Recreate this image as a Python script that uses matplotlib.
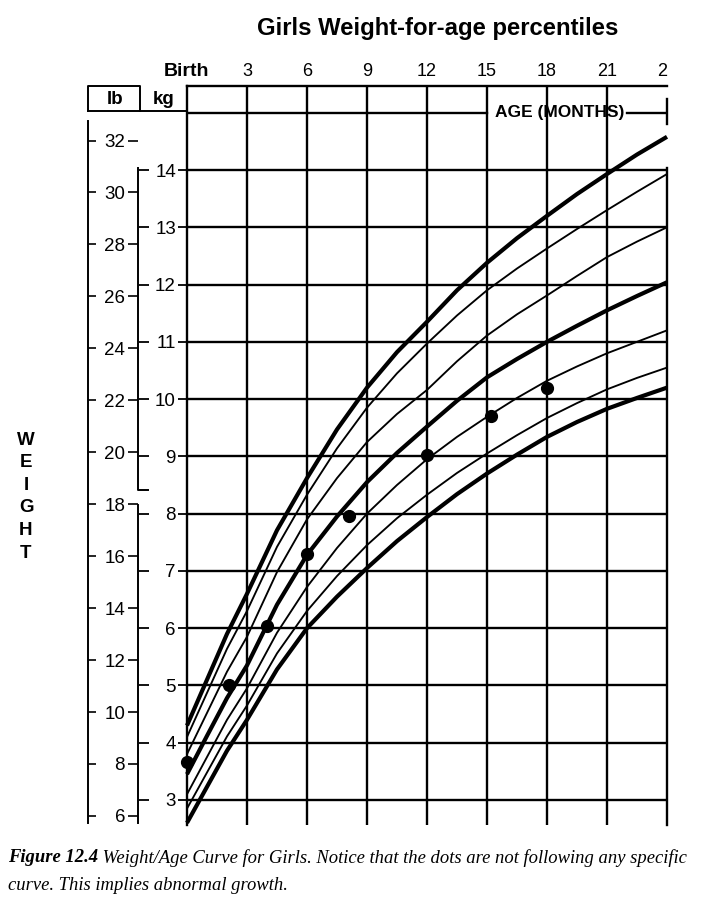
import matplotlib
matplotlib.use("Agg")
import matplotlib.pyplot as plt
import matplotlib.transforms as mtransforms

# ---------------- data ----------------
months = [0, 1, 2, 3, 4.5, 6, 7.5, 9, 10.5, 12, 13.5, 15, 16.5, 18, 19.5, 21, 22.5, 24]
p95 = [4.3, 5.1, 5.9, 6.6, 7.71, 8.62, 9.47, 10.2, 10.82, 11.35, 11.9, 12.38, 12.81, 13.2, 13.58, 13.93, 14.27, 14.58]
p90 = [4.1, 4.87, 5.64, 6.3, 7.42, 8.33, 9.14, 9.85, 10.45, 10.97, 11.46, 11.9, 12.28, 12.63, 12.97, 13.3, 13.62, 13.93]
p75 = [3.8, 4.52, 5.24, 5.85, 6.98, 7.9, 8.62, 9.25, 9.74, 10.16, 10.66, 11.11, 11.48, 11.81, 12.15, 12.48, 12.75, 13.0]
p50 = [3.45, 4.12, 4.78, 5.35, 6.41, 7.28, 7.95, 8.55, 9.06, 9.52, 9.97, 10.38, 10.7, 11.0, 11.28, 11.55, 11.8, 12.04]
p25 = [3.1, 3.75, 4.4, 4.95, 5.92, 6.72, 7.4, 8.0, 8.5, 8.95, 9.34, 9.69, 10.02, 10.32, 10.57, 10.8, 11.0, 11.2]
p10 = [2.85, 3.48, 4.11, 4.65, 5.56, 6.3, 6.91, 7.45, 7.92, 8.33, 8.71, 9.05, 9.37, 9.67, 9.93, 10.17, 10.37, 10.55]
p05 = [2.6, 3.23, 3.86, 4.4, 5.28, 6.0, 6.55, 7.05, 7.52, 7.94, 8.34, 8.7, 9.03, 9.34, 9.6, 9.83, 10.02, 10.2]

dot_months = [0, 2.1, 4.0, 6.0, 8.1, 12.0, 15.2, 18.0]
dot_kg = [3.67, 5.0, 6.03, 7.3, 7.96, 9.02, 9.7, 10.2]

age_ticks = [0, 3, 6, 9, 12, 15, 18, 21, 24]
age_labels = ["Birth", "3", "6", "9", "12", "15", "18", "21", "2"]
kg_ticks = [3, 4, 5, 6, 7, 8, 9, 10, 11, 12, 13, 14]
lb_ticks = [6, 8, 10, 12, 14, 16, 18, 20, 22, 24, 26, 28, 30, 32]

title = "Girls Weight-for-age percentiles"
xlabel = "AGE (MONTHS)"
ylabel = "WEIGHT"
caption_bold = "Figure 12.4"
caption_1 = " Weight/Age Curve for Girls. Notice that the dots are not following any specific"
caption_2 = "curve. This implies abnormal growth."

KG_PER_LB = 0.45359237

# ---------------- figure ----------------
plt.rcParams['font.family'] = ['Liberation Sans', 'DejaVu Sans']
W, H = 702, 911
fig = plt.figure(figsize=(W / 100, H / 100), dpi=100)


def fx(px):
    return px / W


def fy(py):
    return 1 - py / H


ax = fig.add_axes([fx(187), fy(825), fx(667) - fx(187), fy(86) - fy(825)])
ax.set_xlim(0, 24)
ax.set_ylim(2.563, 15.467)

GRID_LW = 1.7
for s in ['right', 'bottom']:
    ax.spines[s].set_visible(False)
for s in ['top', 'left']:
    ax.spines[s].set_linewidth(GRID_LW)

for m in age_ticks[1:-1]:
    ax.axvline(m, color='black', lw=GRID_LW, zorder=1)
for k in kg_ticks:
    ax.axhline(k, color='black', lw=GRID_LW, zorder=1)
# 15 kg line, interrupted by the age label
ax.plot([0, 15], [15, 15], color='black', lw=GRID_LW, zorder=1)
ax.plot([22, 24], [15, 15], color='black', lw=GRID_LW, zorder=1)
# right border + bracket end
ax.plot([24, 24], [2.563, 14.03], color='black', lw=GRID_LW, clip_on=False, zorder=1)
ax.plot([24, 24], [14.8, 15.24], color='black', lw=GRID_LW, clip_on=False, zorder=1)

# percentile curves
THICK, THIN = 3.0, 1.35
for vals, lw in [(p95, THICK), (p90, THIN), (p75, THIN), (p50, THICK),
                 (p25, THIN), (p10, THIN), (p05, THICK)]:
    ax.plot(months, vals, color='black', lw=lw, solid_capstyle='butt',
            clip_on=False, zorder=3)

ax.plot(dot_months, dot_kg, 'o', color='black', ms=8.5, clip_on=False, zorder=4)

# top age ticks
ax.xaxis.tick_top()
ax.set_xticks(age_ticks)
ax.set_xticklabels(age_labels)
ax.tick_params(axis='x', length=0, pad=4, labelsize=13)
xl = ax.get_xticklabels()
xl[0].set_fontweight('bold')
xl[0].set_fontsize(14)
xl[-1].set_horizontalalignment('right')

# kg ticks
ax.set_yticks(kg_ticks)
ax.set_yticklabels([str(v) for v in kg_ticks])
ax.tick_params(axis='y', direction='out', length=6.5, width=1.3, pad=1.5, labelsize=13.5)

# lb axis
sec = ax.secondary_yaxis(-0.1031, functions=(lambda k: k / KG_PER_LB, lambda l: l * KG_PER_LB))
sec.set_yticks(lb_ticks)
sec.set_yticklabels([str(v) for v in lb_ticks])
sec.tick_params(direction='out', length=7, width=1.2, pad=2, labelsize=13.5)
for s in sec.spines.values():
    s.set_visible(False)

sec2 = ax.secondary_yaxis(-0.2063, functions=(lambda k: k / KG_PER_LB, lambda l: l * KG_PER_LB))
sec2.set_yticks(lb_ticks)
sec2.set_yticklabels([])
sec2.tick_params(direction='in', length=5.5, width=1.2)
for s in sec2.spines.values():
    s.set_visible(False)

sec3 = ax.secondary_yaxis(-0.099, functions=(lambda k: k, lambda k: k))
sec3.set_yticks(kg_ticks)
sec3.set_yticklabels([])
sec3.tick_params(direction='in', length=7, width=1.3)
for s in sec3.spines.values():
    s.set_visible(False)

# decorative frame lines left of the chart
bt = mtransforms.blended_transform_factory(ax.transAxes, ax.transData)
deco = dict(color='black', transform=bt, clip_on=False, lw=1.4)
xa = -0.2063
xb = -0.1021
ax.plot([xa, xa], [2.6, 14.85], **deco)
ax.plot([xb, xb, -0.0813], [14.03, 8.41, 8.41], **deco)
ax.plot([xb, xb], [2.6, 8.15], **deco)
# lb / kg header box
ax.plot([xa, xa, -0.0979, -0.0979], [15.03, 15.467, 15.467, 15.03], **deco)
ax.plot([xa, 0], [15.03, 15.03], **deco)
ax.text(-0.15, 15.24, "lb", transform=bt, ha='center', va='center',
        fontsize=13.5, fontweight='bold')
ax.text(-0.048, 15.24, "kg", transform=bt, ha='center', va='center',
        fontsize=13.5, fontweight='bold')

ax.text(18.65, 15.0, xlabel, ha='center', va='center', fontsize=12.5,
        fontweight='bold', zorder=5)

# title
fig.text(fx(438), fy(28), title, ha='center', va='center', fontsize=17.2,
         fontweight='bold')

# vertical WEIGHT label
for i, ch in enumerate(ylabel):
    fig.text(fx(26), fy(440 + i * 22.6), ch, ha='center', va='center',
             fontsize=13.5, fontweight='bold')

# caption
cap_font = ['Liberation Serif', 'DejaVu Serif']
CAP_FS = 13.4
t0 = fig.text(fx(8), fy(858), caption_bold, ha='left', va='center',
              fontsize=CAP_FS, fontweight='bold', fontstyle='italic', family=cap_font)
fig.canvas.draw()
r = fig.canvas.get_renderer()
bb = t0.get_window_extent(renderer=r)
fig.text(bb.x1 / W, fy(858), caption_1, ha='left', va='center',
         fontsize=CAP_FS, fontstyle='italic', family=cap_font)
fig.text(fx(8), fy(885), caption_2, ha='left', va='center',
         fontsize=CAP_FS, fontstyle='italic', family=cap_font)

fig.savefig("out.png", dpi=100)
